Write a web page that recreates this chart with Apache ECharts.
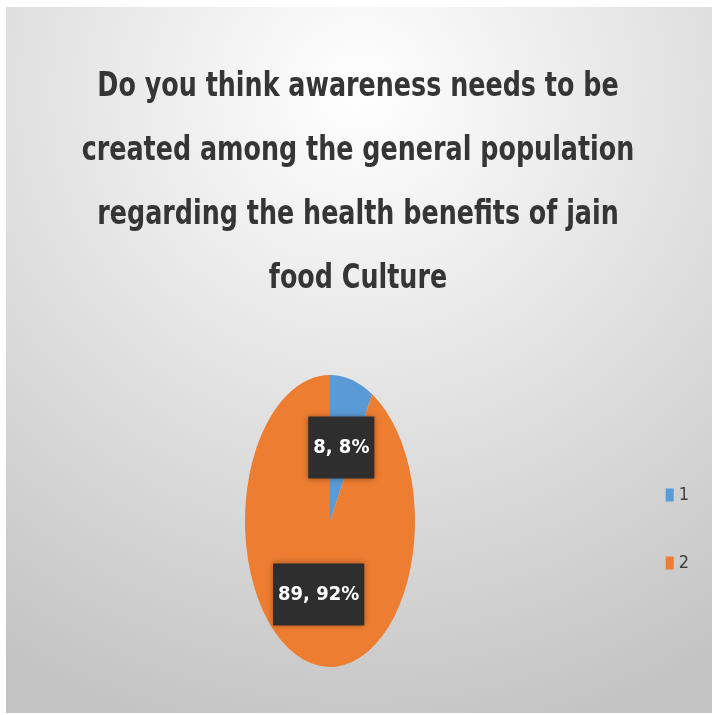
<!DOCTYPE html>
<html>
<head>
<meta charset="utf-8">
<script src="https://cdn.jsdelivr.net/npm/echarts@6/dist/echarts.min.js"></script>
<style>
  html, body { margin: 0; padding: 0; background: #fff; }
  #chart { position: absolute; left: 6px; top: 7px; width: 706px; height: 706px; }
</style>
</head>
<body>
<div id="chart"></div>
<script>
// survey answers
const categories = ['1', '2']
const values = [8, 89]
const colors = ['#5b9bd5', '#ed7d31']
const titleText = 'Do you think awareness needs to be\ncreated among the general population\nregarding the health benefits of jain\nfood Culture'

const total = values.reduce((a, b) => a + b, 0)

// pie is squashed horizontally like the original (stretched picture)
const cx = 324, cy = 514, ry = 146, sx = 85 / 146

function sliceRender(idx) {
  return function (params, api) {
    let before = 0
    for (let i = 0; i < idx; i++) before += values[i]
    const start = -Math.PI / 2 + before / total * Math.PI * 2
    const end = start + values[idx] / total * Math.PI * 2
    const mid = (start + end) / 2
    const pct = Math.round(values[idx] / total * 100)
    return {
      type: 'group',
      children: [
        {
          type: 'sector',
          x: cx, y: cy, scaleX: sx, scaleY: 1,
          shape: { cx: 0, cy: 0, r0: 0, r: ry, startAngle: start, endAngle: end, clockwise: true },
          style: { fill: colors[idx] }
        },
        {
          type: 'text',
          x: cx + Math.cos(mid) * ry * sx * 0.52,
          y: cy + Math.sin(mid) * ry * 0.52,
          z2: 10,
          style: {
            text: values[idx] + ', ' + pct + '%',
            fill: '#ffffff',
            font: 'bold 20px "DejaVu Sans Condensed", sans-serif',
            align: 'center',
            verticalAlign: 'middle',
            backgroundColor: '#2e2e2e',
            padding: [21, 5, 21, 5],
            shadowBlur: 6,
            shadowColor: 'rgba(0,0,0,0.35)'
          }
        }
      ]
    }
  }
}

const chart = echarts.init(document.getElementById('chart'))
chart.setOption({
  backgroundColor: new echarts.graphic.RadialGradient(0.5, 0.12, 0.95, [
    { offset: 0, color: '#ffffff' },
    { offset: 1, color: '#c3c3c3' }
  ]),
  color: colors,
  animation: false,
  // title drawn as graphic text so it can be narrowed like the original
  graphic: [{
    type: 'text',
    x: 352,
    y: 48,
    scaleX: 0.83,
    style: {
      text: titleText,
      font: 'bold 34px "DejaVu Sans Condensed", sans-serif',
      lineHeight: 64,
      align: 'center',
      verticalAlign: 'top',
      fill: '#353535'
    }
  }],
  legend: {
    orient: 'vertical',
    right: 18,
    top: 474,
    itemGap: 50,
    itemWidth: 8,
    itemHeight: 13,
    icon: 'rect',
    data: categories,
    textStyle: { fontSize: 18, color: '#404040', fontFamily: '"DejaVu Sans Condensed", sans-serif' }
  },
  series: categories.map((name, i) => ({
    type: 'custom',
    name: name,
    coordinateSystem: 'none',
    data: [[values[i]]],
    renderItem: sliceRender(i)
  }))
})
</script>
</body>
</html>
